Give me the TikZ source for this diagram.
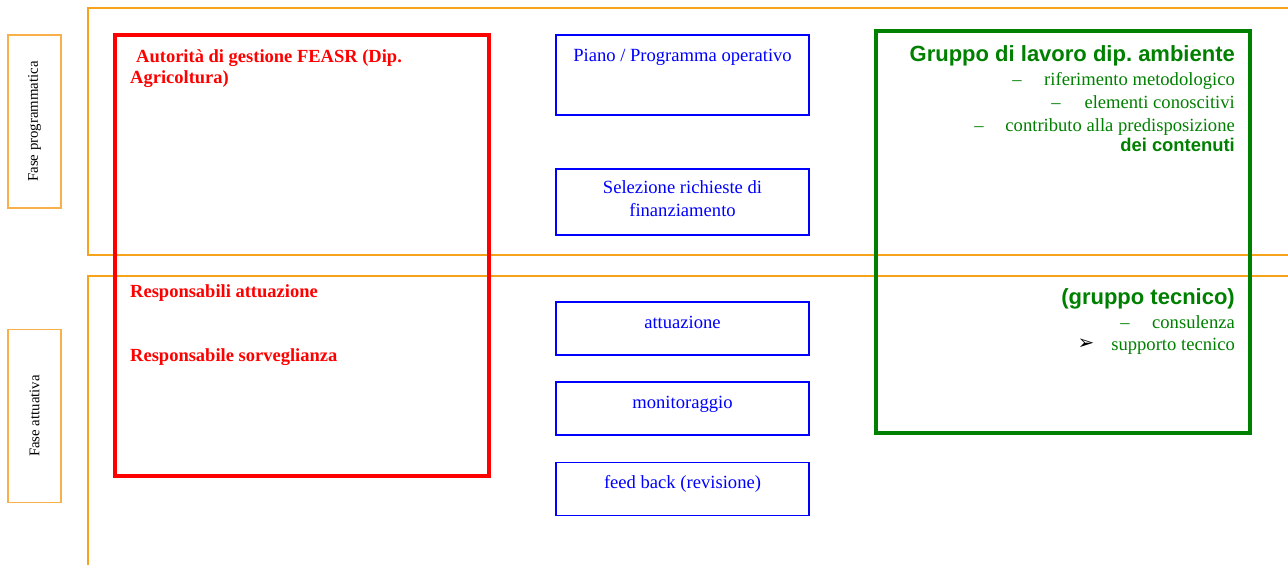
\documentclass[tikz,border=0pt]{standalone}
\usepackage{fontspec}
\setmainfont{Liberation Serif}
\newfontfamily\arialfont{Liberation Sans}
\newfontfamily\symfont{DejaVu Sans}
\frenchspacing
\definecolor{panelorange}{HTML}{F7A21B}
\definecolor{labelorange}{HTML}{F9B04A}
\definecolor{rred}{HTML}{FF0000}
\definecolor{bblue}{HTML}{0000FF}
\definecolor{ggreen}{HTML}{008000}
\tikzset{
  panel/.style={draw=panelorange, line width=1.5pt},
  phasebox/.style={draw=labelorange, line width=1.5pt, rectangle, inner sep=0pt, minimum width=53pt, minimum height=173pt},
  phasetext/.style={rotate=90, font=\fontsize{14.8}{17}\selectfont, inner sep=0pt},
  bluebox/.style={draw=bblue, line width=1.6pt, rectangle, inner sep=0pt, minimum width=253pt},
  bluetext/.style={text=bblue, font=\fontsize{18.6}{23}\selectfont, inner sep=0pt, align=center, anchor=base},
  redtext/.style={text=rred, font=\fontsize{18.5}{21}\bfseries\selectfont, inner sep=0pt, anchor=base west},
  greenhead/.style={text=ggreen, font=\arialfont\fontsize{22}{24}\bfseries\selectfont, inner sep=0pt, anchor=base east},
  greenitem/.style={text=ggreen, font=\fontsize{18.6}{20}\selectfont, inner sep=0pt, anchor=base east},
  greenbold/.style={text=ggreen, font=\arialfont\fontsize{18.4}{20}\bfseries\selectfont, inner sep=0pt, anchor=base east},
  bullet/.style={inner sep=0pt, anchor=base, font=\fontsize{18.6}{20}\selectfont},
}
\begin{document}
\begin{tikzpicture}[x=1pt, y=-1pt]
\useasboundingbox (0,0) rectangle (1288,565);
% phase panels
\draw[panel] (1300,8) -- (88,8) -- (88,255) -- (1300,255);
\draw[panel] (1300,276) -- (88,276) -- (88,600);
% phase labels
\node[phasebox] (fp) at (34.5,121.5) {};
\node[phasetext] (fptext) at (fp.center) {Fase programmatica};
\node[phasebox] (fa) at (34.5,416) {};
\node[phasetext] (fatext) at (fa.center) {Fase attuativa};
% red box
\node[draw=rred, line width=3.8pt, rectangle, inner sep=0pt, minimum width=374pt, minimum height=441pt] (red) at (302,255.5) {};
\node[redtext] (r1) at (136,62) {Autorità di gestione FEASR (Dip.};
\node[redtext] (r2) at (130,83) {Agricoltura)};
\node[redtext] (r3) at (130,297) {Responsabili attuazione};
\node[redtext] (r4) at (130,361) {Responsabile sorveglianza};
% blue boxes
\node[bluebox, minimum height=80pt] (b1) at (682.5,75) {};
\node[bluetext] (b1t) at (682.5,61) {Piano / Programma operativo};
\node[bluebox, minimum height=66pt] (b2) at (682.5,202) {};
\node[bluetext] (b2t) at (682.5,216) {Selezione richieste di\\finanziamento};
\node[bluebox, minimum height=53pt] (b3) at (682.5,328.5) {};
\node[bluetext] (b3t) at (682.5,328) {attuazione};
\node[bluebox, minimum height=53pt] (b4) at (682.5,408.5) {};
\node[bluetext] (b4t) at (682.5,408) {monitoraggio};
\node[bluebox, minimum height=53pt] (b5) at (682.5,488.8) {};
\node[bluetext] (b5t) at (682.5,488) {feed back (revisione)};
% green box
\node[draw=ggreen, line width=3.4pt, rectangle, inner sep=0pt, minimum width=374pt, minimum height=402pt] (green) at (1063,232) {};
\node[greenhead] (g1) at (1235,61) {Gruppo di lavoro dip. ambiente};
\node[greenitem] (g2) at (1235,85) {riferimento metodologico};
\node[bullet, text=ggreen] (g2b) at (1017,85) {\textendash};
\node[greenitem] (g3) at (1235,108) {elementi conoscitivi};
\node[bullet, text=ggreen] (g3b) at (1056,108) {\textendash};
\node[greenitem] (g4) at (1235,131) {contributo alla predisposizione};
\node[bullet, text=ggreen] (g4b) at (979,131) {\textendash};
\node[greenbold] (g5) at (1235,151) {dei contenuti};
\node[greenhead] (g6) at (1235,304) {(gruppo tecnico)};
\node[greenitem] (g7) at (1235,328) {consulenza};
\node[bullet, text=ggreen] (g7b) at (1125,328) {\textendash};
\node[greenitem] (g8) at (1235,350) {supporto tecnico};
\node[bullet, font=\symfont\fontsize{20}{21}\selectfont] (g8b) at (1086,349.5) {➢};
\end{tikzpicture}
\end{document}
